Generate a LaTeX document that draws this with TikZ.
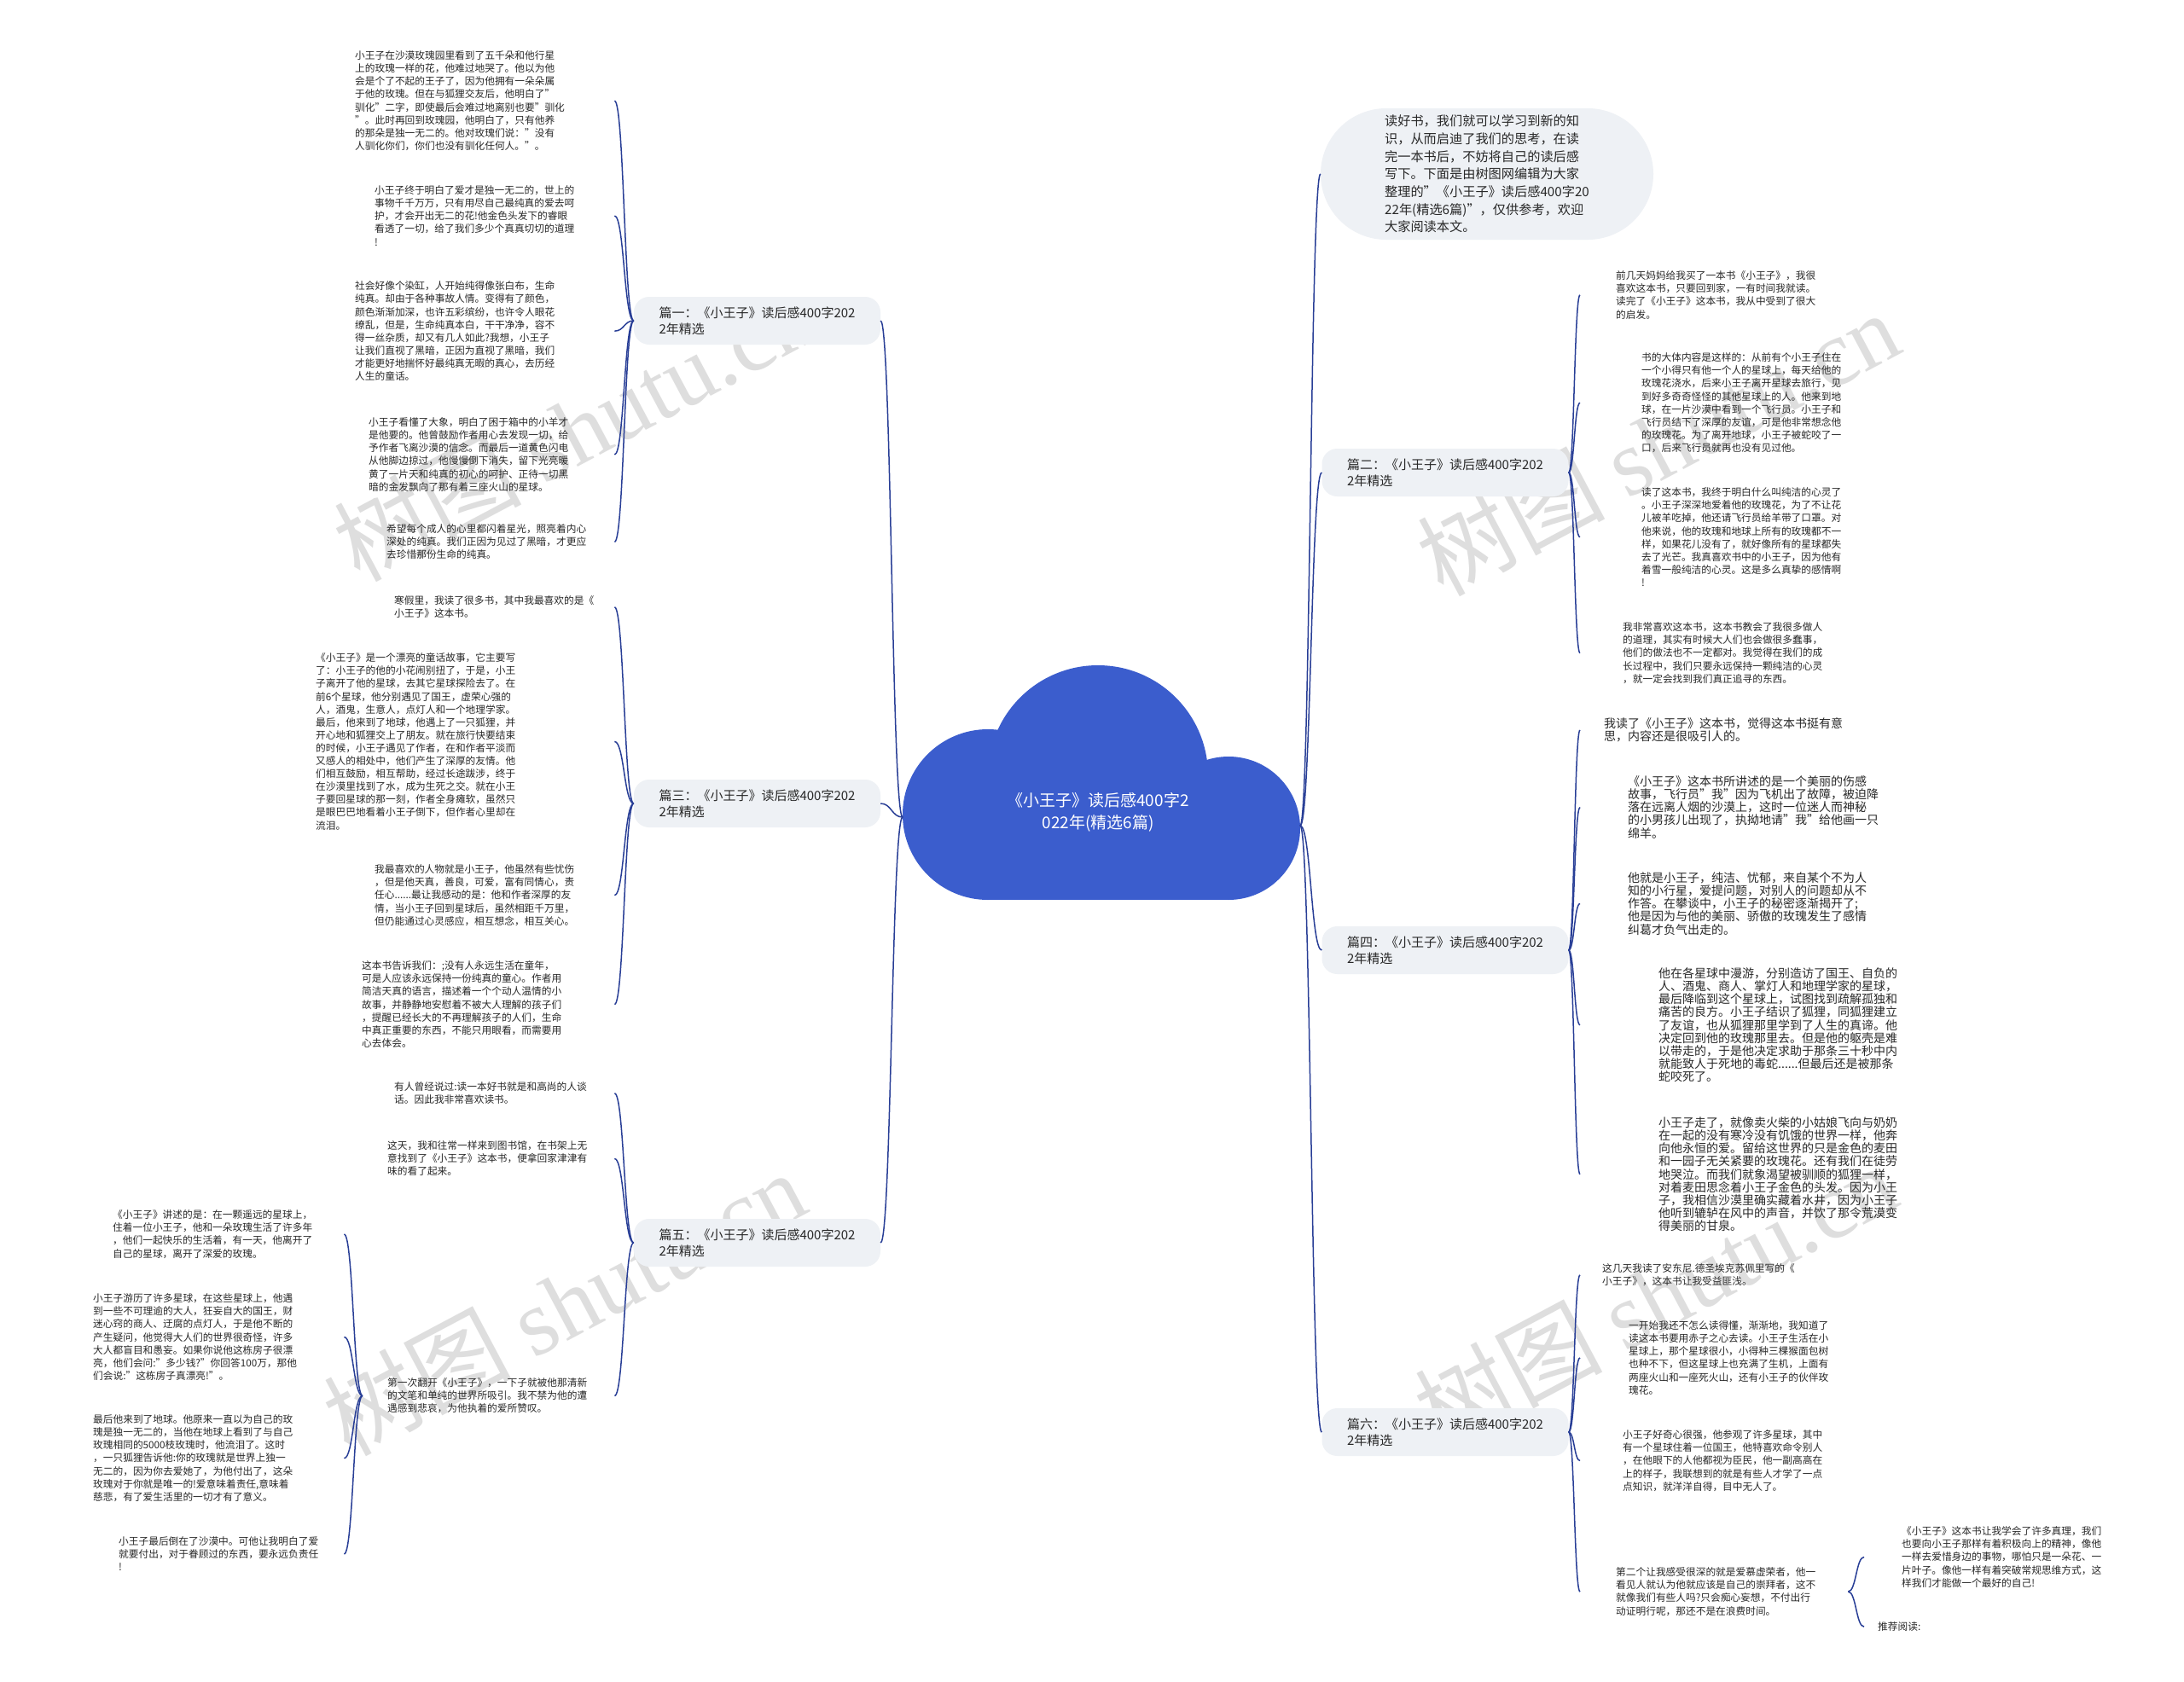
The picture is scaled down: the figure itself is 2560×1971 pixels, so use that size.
\documentclass[tikz,border=0pt]{standalone}
\usepackage{fontspec}
\setmainfont{Noto Sans CJK SC}
\newfontfamily\wmserif{Liberation Serif}
\usetikzlibrary{calc}
\definecolor{cloudblue}{RGB}{59,93,205}
\definecolor{linecol}{RGB}{40,62,150}
\definecolor{pillcol}{RGB}{238,241,245}
\definecolor{txtcol}{RGB}{40,40,40}
\definecolor{wmcol}{RGB}{222,222,222}
\newcommand\lp[2]{\parindent=0pt\leftskip=#1pt\relax #2\par}
\newcommand\conn[2]{\draw[conn] let \p1=(#1), \p2=(#2) in (\p1) .. controls ({(\x1+\x2)/2},\y1) and ({(\x1+\x2)/2},\y2) .. (\p2);}
\tikzset{
  lt/.style={anchor=north west, inner sep=0pt, align=left, text=txtcol, font=\fontsize{11.7}{15.1}\selectfont, text width=#1},
  bt/.style={lt=#1, font=\fontsize{14}{15.1}\selectfont},
  pill/.style={fill=pillcol, rounded corners=18pt, minimum width=289pt, minimum height=56pt, inner sep=0pt, align=left, text=txtcol, font=\fontsize{15}{19.5}\selectfont},
  introbox/.style={fill=pillcol, rounded corners=77pt, minimum width=390pt, minimum height=154pt, inner sep=0pt, align=left, text=txtcol, font=\fontsize{15.2}{20.7}\selectfont},
  conn/.style={draw=linecol, line width=1.5pt},
  wm/.style={text=wmcol, font=\fontsize{110}{110}\selectfont, inner sep=0pt, rotate=28},
}
\begin{document}
\begin{tikzpicture}[x=1pt,y=-1pt]
\fill[white] (0,0) rectangle (2560,1971);
\useasboundingbox (0,0) rectangle (2560,1971);
% watermarks
\node[wm] (wm1) at (673,502) {树图 {\wmserif shutu.cn}};
\node[wm] (wm2) at (661,1527) {树图 {\wmserif shutu.cn}};
\node[wm] (wm3) at (1943,519) {树图 {\wmserif shutu.cn}};
\node[wm] (wm4) at (1940,1519) {树图 {\wmserif shutu.cn}};
% cloud
\fill[cloudblue] (1287,909) circle[radius=129pt];
\fill[cloudblue] (1158,955) circle[radius=100pt];
\fill[cloudblue] (1440,971) circle[radius=84pt];
\fill[cloudblue] (1158,955) rectangle (1440,1055);
\node[text=white, align=center, font=\fontsize{19}{26}\selectfont] (center) at (1287,952) {《小王子》读后感400字2\\022年(精选6篇)};
\coordinate (cL) at (1058,958);
\coordinate (cR) at (1524,968);
% branch pills
\node[pill] (P1) at (887.5,376) {篇一：《小王子》读后感400字202\\2年精选};
\node[pill] (P3) at (887.5,942) {篇三：《小王子》读后感400字202\\2年精选};
\node[pill] (P5) at (887.5,1457) {篇五：《小王子》读后感400字202\\2年精选};
\node[pill] (P2) at (1694,554) {篇二：《小王子》读后感400字202\\2年精选};
\node[pill] (P4) at (1694,1114) {篇四：《小王子》读后感400字202\\2年精选};
\node[pill] (P6) at (1694,1679) {篇六：《小王子》读后感400字202\\2年精选};
\node[introbox] (intro) at (1743,204) {读好书，我们就可以学习到新的知\\识，从而启迪了我们的思考，在读\\完一本书后，不妨将自己的读后感\\写下。下面是由树图网编辑为大家\\整理的"《小王子》读后感400字20\\22年(精选6篇)"，仅供参考，欢迎\\大家阅读本文。};
% left branch 1
\node[lt=304pt] (L1a) at (416,59.6) {小王子在沙漠玫瑰园里看到了五千朵和他行星\\上的玫瑰一样的花，他难过地哭了。他以为他\\会是个了不起的王子了，因为他拥有一朵朵属\\于他的玫瑰。但在与狐狸交友后，他明白了"\\驯化"二字，即使最后会难过地离别也要"驯化\\"。此时再回到玫瑰园，他明白了，只有他养\\的那朵是独一无二的。他对玫瑰们说："没有\\人驯化你们，你们也没有驯化任何人。"。};
\node[lt=281pt] (L1b) at (439,217.6) {小王子终于明白了爱才是独一无二的，世上的\\事物千千万万，只有用尽自己最纯真的爱去呵\\护，才会开出无二的花!他金色头发下的睿眼\\看透了一切，给了我们多少个真真切切的道理\\!};
\node[lt=304pt] (L1c) at (416,329.6) {社会好像个染缸，人开始纯得像张白布，生命\\纯真。却由于各种事故人情。变得有了颜色，\\颜色渐渐加深，也许五彩缤纷，也许令人眼花\\缭乱，但是，生命纯真本白，干干净净，容不\\得一丝杂质，却又有几人如此?我想，小王子\\让我们直视了黑暗，正因为直视了黑暗，我们\\才能更好地揣怀好最纯真无暇的真心，去历经\\人生的童话。};
\node[lt=288pt] (L1d) at (432,489.6) {小王子看懂了大象，明白了困于箱中的小羊才\\是他要的。他曾鼓励作者用心去发现一切，给\\予作者飞离沙漠的信念。而最后一道黄色闪电\\从他脚边掠过，他慢慢倒下消失，留下光亮暖\\黄了一片天和纯真的初心的呵护、正待一切黑\\暗的金发飘向了那有着三座火山的星球。};
\node[lt=267pt] (L1e) at (453,614.6) {希望每个成人的心里都闪着星光，照亮着内心\\深处的纯真。我们正因为见过了黑暗，才更应\\去珍惜那份生命的纯真。};
% left branch 3
\node[lt=258pt] (L3a) at (462,698.6) {寒假里，我读了很多书，其中我最喜欢的是《\\小王子》这本书。};
\node[lt=350pt] (L3b) at (370,765.6) {《小王子》是一个漂亮的童话故事，它主要写\\了：小王子的他的小花闹别扭了，于是，小王\\子离开了他的星球，去其它星球探险去了。在\\前6个星球，他分别遇见了国王，虚荣心强的\\人，酒鬼，生意人，点灯人和一个地理学家。\\最后，他来到了地球，他遇上了一只狐狸，并\\开心地和狐狸交上了朋友。就在旅行快要结束\\的时候，小王子遇见了作者，在和作者平淡而\\又感人的相处中，他们产生了深厚的友情。他\\们相互鼓励，相互帮助，经过长途跋涉，终于\\在沙漠里找到了水，成为生死之交。就在小王\\子要回星球的那一刻，作者全身瘫软，虽然只\\是眼巴巴地看着小王子倒下，但作者心里却在\\流泪。};
\node[lt=281pt] (L3c) at (439,1013.6) {我最喜欢的人物就是小王子，他虽然有些忧伤\\，但是他天真，善良，可爱，富有同情心，责\\任心......最让我感动的是：他和作者深厚的友\\情，当小王子回到星球后，虽然相距千万里，\\但仍能通过心灵感应，相互想念，相互关心。};
\node[lt=296pt] (L3d) at (424,1126.6) {这本书告诉我们：;没有人永远生活在童年，\\可是人应该永远保持一份纯真的童心。作者用\\简洁天真的语言，描述着一个个动人温情的小\\故事，并静静地安慰着不被大人理解的孩子们\\，提醒已经长大的不再理解孩子的人们，生命\\中真正重要的东西，不能只用眼看，而需要用\\心去体会。};
% left branch 5
\node[lt=258pt] (L5a) at (462,1268.6) {有人曾经说过:读一本好书就是和高尚的人谈\\话。因此我非常喜欢读书。};
\node[lt=266pt] (L5b) at (454,1337.6) {这天，我和往常一样来到图书馆，在书架上无\\意找到了《小王子》这本书，便拿回家津津有\\味的看了起来。};
\node[lt=295pt] (L5c) at (425,1615.6) {\lp{29}{第一次翻开《小王子》，一下子就被他那清新\\的文笔和单纯的世界所吸引。我不禁为他的遭\\遇感到悲哀，为他执着的爱所赞叹。}};
\node[lt=271pt] (L5d) at (132,1418.6) {《小王子》讲述的是：在一颗遥远的星球上，\\住着一位小王子，他和一朵玫瑰生活了许多年\\，他们一起快乐的生活着，有一天，他离开了\\自己的星球，离开了深爱的玫瑰。};
\node[lt=294pt] (L5e) at (109,1516.6) {小王子游历了许多星球，在这些星球上，他遇\\到一些不可理逾的大人，狂妄自大的国王，财\\迷心窍的商人、迂腐的点灯人，于是他不断的\\产生疑问，他觉得大人们的世界很奇怪，许多\\大人都盲目和愚妄。如果你说他这栋房子很漂\\亮，他们会问:"多少钱?"你回答100万，那他\\们会说:"这栋房子真漂亮!"。};
\node[lt=294pt] (L5f) at (109,1658.6) {最后他来到了地球。他原来一直以为自己的玫\\瑰是独一无二的，当他在地球上看到了与自己\\玫瑰相同的5000枝玫瑰时，他流泪了。这时\\，一只狐狸告诉他:你的玫瑰就是世界上独一\\无二的，因为你去爱她了，为他付出了，这朵\\玫瑰对于你就是唯一的!爱意味着责任,意味着\\慈悲，有了爱生活里的一切才有了意义。};
\node[lt=264pt] (L5g) at (139,1801.6) {小王子最后倒在了沙漠中。可他让我明白了爱\\就要付出，对于眷顾过的东西，要永远负责任\\!};
% right branch 2
\node[lt=342pt] (R2a) at (1852,317.6) {\lp{42}{前几天妈妈给我买了一本书《小王子》，我很\\喜欢这本书，只要回到家，一有时间我就读。\\读完了《小王子》这本书，我从中受到了很大\\的启发。}};
\node[lt=372pt] (R2b) at (1852,413.6) {\lp{72}{书的大体内容是这样的：从前有个小王子住在\\一个小得只有他一个人的星球上，每天给他的\\玫瑰花浇水，后来小王子离开星球去旅行，见\\到好多奇奇怪怪的其他星球上的人。他来到地\\球，在一片沙漠中看到一个飞行员。小王子和\\飞行员结下了深厚的友谊，可是他非常想念他\\的玫瑰花。为了离开地球，小王子被蛇咬了一\\口，后来飞行员就再也没有见过他。}};
\node[lt=372pt] (R2c) at (1852,571.6) {\lp{72}{读了这本书，我终于明白什么叫纯洁的心灵了\\。小王子深深地爱着他的玫瑰花，为了不让花\\儿被羊吃掉，他还请飞行员给羊带了口罩。对\\他来说，他的玫瑰和地球上所有的玫瑰都不一\\样，如果花儿没有了，就好像所有的星球都失\\去了光芒。我真喜欢书中的小王子，因为他有\\着雪一般纯洁的心灵。这是多么真挚的感情啊\\!}};
\node[lt=350pt] (R2d) at (1852,729.6) {\lp{50}{我非常喜欢这本书，这本书教会了我很多做人\\的道理，其实有时候大人们也会做很多蠢事，\\他们的做法也不一定都对。我觉得在我们的成\\长过程中，我们只要永远保持一颗纯洁的心灵\\，就一定会找到我们真正追寻的东西。}};
% right branch 4
\node[bt=328pt] (R4a) at (1852,841.6) {\lp{28}{我读了《小王子》这本书，觉得这本书挺有意\\思，内容还是很吸引人的。}};
\node[bt=356pt] (R4b) at (1852,909.6) {\lp{56}{《小王子》这本书所讲述的是一个美丽的伤感\\故事，飞行员"我"因为飞机出了故障，被迫降\\落在远离人烟的沙漠上，这时一位迷人而神秘\\的小男孩儿出现了，执拗地请"我"给他画一只\\绵羊。}};
\node[bt=356pt] (R4c) at (1852,1022.6) {\lp{56}{他就是小王子，纯洁、忧郁，来自某个不为人\\知的小行星，爱提问题，对别人的问题却从不\\作答。在攀谈中，小王子的秘密逐渐揭开了;\\他是因为与他的美丽、骄傲的玫瑰发生了感情\\纠葛才负气出走的。}};
\node[bt=392pt] (R4d) at (1852,1134.6) {\lp{92}{他在各星球中漫游，分别造访了国王、自负的\\人、酒鬼、商人、掌灯人和地理学家的星球，\\最后降临到这个星球上，试图找到疏解孤独和\\痛苦的良方。小王子结识了狐狸，同狐狸建立\\了友谊，也从狐狸那里学到了人生的真谛。他\\决定回到他的玫瑰那里去。但是他的躯壳是难\\以带走的，于是他决定求助于那条三十秒中内\\就能致人于死地的毒蛇......但最后还是被那条\\蛇咬死了。}};
\node[bt=392pt] (R4e) at (1852,1309.6) {\lp{92}{小王子走了，就像卖火柴的小姑娘飞向与奶奶\\在一起的没有寒冷没有饥饿的世界一样，他奔\\向他永恒的爱。留给这世界的只是金色的麦田\\和一园子无关紧要的玫瑰花。还有我们在徒劳\\地哭泣。而我们就象渴望被驯顺的狐狸一样，\\对着麦田思念着小王子金色的头发。因为小王\\子，我相信沙漠里确实藏着水井，因为小王子\\他听到辘轳在风中的声音，并饮了那令荒漠变\\得美丽的甘泉。}};
% right branch 6
\node[lt=326pt] (R6a) at (1852,1481.6) {\lp{26}{这几天我读了安东尼.德圣埃克苏佩里写的《\\小王子》，这本书让我受益匪浅。}};
\node[lt=357pt] (R6b) at (1852,1548.6) {\lp{57}{一开始我还不怎么读得懂，渐渐地，我知道了\\读这本书要用赤子之心去读。小王子生活在小\\星球上，那个星球很小，小得种三棵猴面包树\\也种不下，但这星球上也充满了生机，上面有\\两座火山和一座死火山，还有小王子的伙伴玫\\瑰花。}};
\node[lt=350pt] (R6c) at (1852,1676.6) {\lp{50}{小王子好奇心很强，他参观了许多星球，其中\\有一个星球住着一位国王，他特喜欢命令别人\\，在他眼下的人他都视为臣民，他一副高高在\\上的样子，我联想到的就是有些人才学了一点\\点知识，就洋洋自得，目中无人了。}};
\node[lt=314pt] (R6d) at (1852,1837.6) {\lp{42}{第二个让我感受很深的就是爱慕虚荣者，他一\\看见人就认为他就应该是自己的崇拜者，这不\\就像我们有些人吗?只会痴心妄想，不付出行\\动证明行呢，那还不是在浪费时间。}};
\node[lt=300pt] (R6e) at (2185,1789.6) {\lp{44}{《小王子》这本书让我学会了许多真理，我们\\也要向小王子那样有着积极向上的精神，像他\\一样去爱惜身边的事物，哪怕只是一朵花、一\\片叶子。像他一样有着突破常规思维方式，这\\样我们才能做一个最好的自己!}};
\node[lt=100pt] (R6f) at (2185,1901.6) {\lp{16}{推荐阅读:}};
% connectors
\conn{cL}{P1.east} \conn{cL}{P3.east} \conn{cL}{P5.east}
\conn{cR}{intro.west} \conn{cR}{P2.west} \conn{cR}{P4.west} \conn{cR}{P6.west}
\conn{P1.west}{L1a.east} \conn{P1.west}{L1b.east} \conn{P1.west}{L1c.east} \conn{P1.west}{L1d.east} \conn{P1.west}{L1e.east}
\conn{P3.west}{L3a.east} \conn{P3.west}{L3b.east} \conn{P3.west}{L3c.east} \conn{P3.west}{L3d.east}
\conn{P5.west}{L5a.east} \conn{P5.west}{L5b.east} \conn{P5.west}{L5c.east}
\conn{L5c.west}{L5d.east} \conn{L5c.west}{L5e.east} \conn{L5c.west}{L5f.east} \conn{L5c.west}{L5g.east}
\conn{P2.east}{R2a.west} \conn{P2.east}{R2b.west} \conn{P2.east}{R2c.west} \conn{P2.east}{R2d.west}
\conn{P4.east}{R4a.west} \conn{P4.east}{R4b.west} \conn{P4.east}{R4c.west} \conn{P4.east}{R4d.west} \conn{P4.east}{R4e.west}
\conn{P6.east}{R6a.west} \conn{P6.east}{R6b.west} \conn{P6.east}{R6c.west} \conn{P6.east}{R6d.west}
\conn{R6d.east}{R6e.west} \conn{R6d.east}{R6f.west}
\end{tikzpicture}
\end{document}
